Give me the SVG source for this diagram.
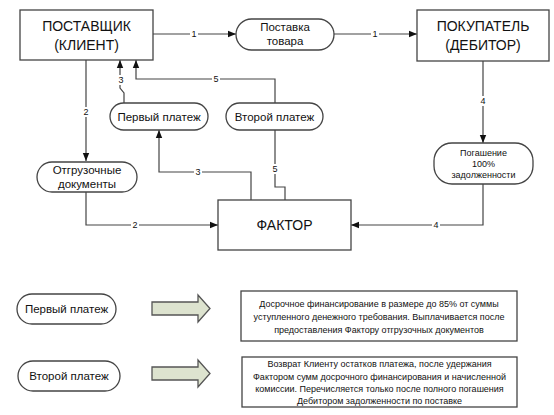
<svg xmlns="http://www.w3.org/2000/svg" width="554" height="415" viewBox="0 0 554 415">
<defs>
<marker id="ah" viewBox="0 0 10 10" refX="10" refY="5" markerWidth="8" markerHeight="8" markerUnits="userSpaceOnUse" orient="auto">
<path d="M0,1 L10,5 L0,9 Z" fill="#111"/>
</marker>
<style>
text{font-family:"Liberation Sans",Arial,sans-serif;fill:#111;text-anchor:middle}
.box{fill:#fff;stroke:#444;stroke-width:1.3}
.pill{fill:#fff;stroke:#444;stroke-width:1.3}
.big{font-size:14px}
.mid{font-size:11.5px}
.sm{font-size:9px}
.lbl{font-size:9px}
.c{fill:none;stroke:#444;stroke-width:1.2}
.ba{fill:#dde3cf;stroke:#555;stroke-width:1.3}
</style>
</defs>
<rect width="554" height="415" fill="#fff"/>
<g id="connectors">
<path class="c" d="M153,34 H236" marker-end="url(#ah)"/>
<path class="c" d="M334,34 H417" marker-end="url(#ah)"/>
<path class="c" d="M86,60 V161" marker-end="url(#ah)"/>
<path class="c" d="M86,192 V225 H218" marker-end="url(#ah)"/>
<path class="c" d="M251,200 V172 H159 V130" marker-end="url(#ah)"/>
<path class="c" d="M124,103 V93 L120,88 V60" marker-end="url(#ah)"/>
<path class="c" d="M285,200 V187 H275 V130"/>
<path class="c" d="M275,103 V79 H136 V60" marker-end="url(#ah)"/>
<path class="c" d="M483,61 V143" marker-end="url(#ah)"/>
<path class="c" d="M483,184 V225 H351" marker-end="url(#ah)"/>
<g class="lbl">
<rect x="190" y="29" width="8" height="10" fill="#fff"/><text x="194" y="37" class="lbl">1</text>
<rect x="371" y="29" width="8" height="10" fill="#fff"/><text x="375" y="37" class="lbl">1</text>
<rect x="82" y="107" width="8" height="10" fill="#fff"/><text x="86" y="115" class="lbl">2</text>
<rect x="131" y="220" width="8" height="10" fill="#fff"/><text x="135" y="228" class="lbl">2</text>
<rect x="194" y="167" width="8" height="10" fill="#fff"/><text x="198" y="175" class="lbl">3</text>
<rect x="117" y="75" width="8" height="10" fill="#fff"/><text x="121" y="83" class="lbl">3</text>
<rect x="212" y="74" width="8" height="10" fill="#fff"/><text x="216" y="82" class="lbl">5</text>
<rect x="271" y="164" width="8" height="10" fill="#fff"/><text x="275" y="172" class="lbl">5</text>
<rect x="479" y="96" width="8" height="10" fill="#fff"/><text x="483" y="104" class="lbl">4</text>
<rect x="432" y="220" width="8" height="10" fill="#fff"/><text x="436" y="228" class="lbl">4</text>
</g>
</g>
<g id="supplier">
<rect class="box" x="20" y="10" width="133" height="50"/>
<text class="big" x="86.5" y="31">ПОСТАВЩИК</text>
<text class="big" x="86.5" y="50">(КЛИЕНТ)</text>
</g>
<g id="delivery">
<rect class="pill" x="236" y="19" width="98" height="31" rx="15.5"/>
<text class="mid" x="285" y="31">Поставка</text>
<text class="mid" x="285" y="45">товара</text>
</g>
<g id="buyer">
<rect class="box" x="417" y="10" width="132" height="51"/>
<text class="big" x="483" y="31">ПОКУПАТЕЛЬ</text>
<text class="big" x="483" y="50">(ДЕБИТОР)</text>
</g>
<g id="first-payment">
<rect class="pill" x="110" y="103" width="98" height="27" rx="13.5"/>
<text class="mid" x="159" y="121">Первый платеж</text>
</g>
<g id="second-payment">
<rect class="pill" x="226" y="103" width="97" height="27" rx="13.5"/>
<text class="mid" x="274.5" y="121">Второй платеж</text>
</g>
<g id="shipping-docs">
<rect class="pill" x="37" y="162" width="100" height="30" rx="15"/>
<text class="mid" x="87" y="174">Отгрузочные</text>
<text class="mid" x="87" y="188">документы</text>
</g>
<g id="repayment">
<rect class="pill" x="434" y="143" width="99" height="41" rx="18"/>
<text class="sm" x="483.5" y="156">Погашение</text>
<text class="sm" x="483.5" y="167">100%</text>
<text class="sm" x="483.5" y="178">задолженности</text>
</g>
<g id="factor">
<rect class="box" x="218" y="200" width="133" height="50"/>
<text class="big" x="284.5" y="230">ФАКТОР</text>
</g>
<g id="legend-first">
<rect class="pill" x="17" y="294" width="99" height="30" rx="15"/>
<text class="mid" x="66.5" y="313">Первый платеж</text>
</g>
<g id="legend-first-arrow">
<path class="ba" d="M152,302 H198 V295 L210,308.5 L198,322 V315 H152 Z"/>
</g>
<g id="legend-first-text">
<rect class="box" x="241" y="291" width="276" height="50"/>
<text class="sm" x="379" y="307">Досрочное финансирование в размере до 85% от суммы</text>
<text class="sm" x="379" y="320">уступленного денежного требования. Выплачивается после</text>
<text class="sm" x="379" y="333">предоставления Фактору отгрузочных документов</text>
</g>
<g id="legend-second">
<rect class="pill" x="18" y="361" width="102" height="30" rx="15"/>
<text class="mid" x="69" y="380">Второй платеж</text>
</g>
<g id="legend-second-arrow">
<path class="ba" d="M152,367 H198 V360 L210,373.5 L198,387 V380 H152 Z"/>
</g>
<g id="legend-second-text">
<rect class="box" x="242" y="357" width="275" height="50"/>
<text class="sm" x="379.5" y="367">Возврат Клиенту остатков платежа, после удержания</text>
<text class="sm" x="379.5" y="380">Фактором сумм досрочного финансирования и начисленной</text>
<text class="sm" x="379.5" y="392">комиссии. Перечисляется только после полного погашения</text>
<text class="sm" x="379.5" y="404">Дебитором задолженности по поставке</text>
</g>
</svg>
